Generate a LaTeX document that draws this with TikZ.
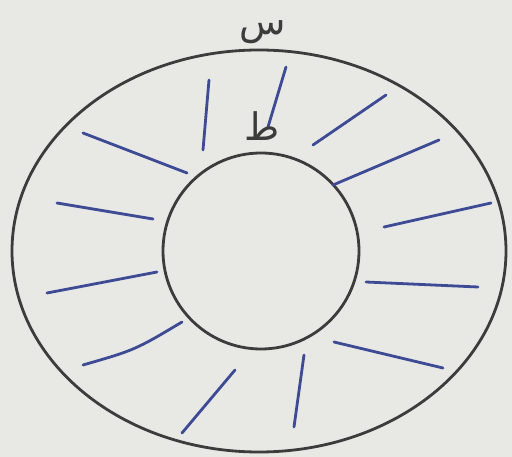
\documentclass[tikz,border=0pt]{standalone}
\usepackage{fontspec}
\newfontfamily\arabicfont[Script=Arabic]{DejaVu Sans}
\TeXXeTstate=1
\definecolor{paper}{HTML}{E8E8E5}
\definecolor{ink}{HTML}{3C3C3C}
\definecolor{pen}{HTML}{3D4B95}
\begin{document}
\begin{tikzpicture}[x=1pt,y=-1pt,
  ring/.style={draw=ink,line width=2.8pt},
  ray/.style={draw=pen,line width=2.8pt,line cap=round},
  lbl/.style={text=ink,font=\arabicfont\fontsize{38}{38}\selectfont,inner sep=0pt}]
\fill[paper] (0,0) rectangle (512,457);
\useasboundingbox (0,0) rectangle (512,457);
\draw[ring] (259,251) ellipse [x radius=247, y radius=201];
\draw[ring] (261,251) circle [radius=98];
% rays
\draw[ray] (209,80) -- (203,150);
\draw[ray] (83,133) -- (187,173);
\draw[ray] (57,203) -- (153,219);
\draw[ray] (286,67) -- (268,127);
\draw[ray] (386,95) -- (313,145);
\draw[ray] (439,140) -- (333,185);
\draw[ray] (491,203) -- (384,227);
\draw[ray] (47,293) -- (157,272);
\draw[ray] (83,365) .. controls (135,350) .. (182,322);
\draw[ray] (182,433) -- (235,370);
\draw[ray] (366,282) -- (478,287);
\draw[ray] (334,342) -- (443,368);
\draw[ray] (304,355) -- (294,427);
% labels
\node[lbl] (top) at (263,32) {\beginR س\endR};
\node[lbl] (inner) at (262,126) {\beginR ط\endR};
\end{tikzpicture}
\end{document}
